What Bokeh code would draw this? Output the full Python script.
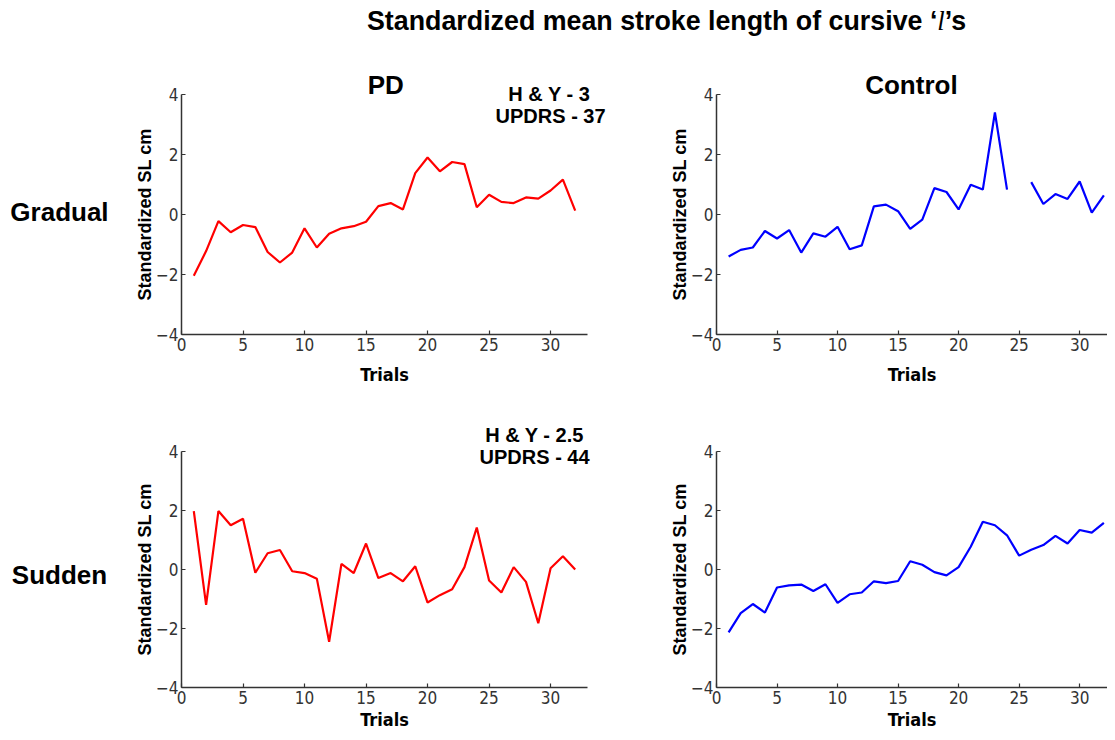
import numpy as np
from bokeh.plotting import figure
from bokeh.layouts import column, row
from bokeh.models import Range1d, FixedTicker, Label, Div
from bokeh.embed import file_html
from bokeh.resources import INLINE

# ---- data ----
trials = list(range(1, 33))
pd_gradual = [-2.04, -1.22, -0.22, -0.59, -0.35, -0.42, -1.25, -1.6, -1.27, -0.46,
              -1.1, -0.64, -0.46, -0.39, -0.24, 0.28, 0.38, 0.17, 1.38, 1.9,
              1.44, 1.75, 1.68, 0.24, 0.66, 0.42, 0.38, 0.57, 0.53, 0.8, 1.16, 0.13]
ctrl_gradual = [-1.4, -1.18, -1.1, -0.55, -0.8, -0.52, -1.27, -0.63, -0.74, -0.41,
                -1.16, -1.03, 0.27, 0.33, 0.11, -0.48, -0.17, 0.88, 0.75, 0.17,
                0.99, 0.83, 3.4, 0.83, np.nan, 1.08, 0.35, 0.68, 0.52, 1.1, 0.06, 0.64]
pd_sudden = [1.98, -1.2, 1.98, 1.5, 1.72, -0.11, 0.55, 0.66, -0.06, -0.12,
             -0.31, -2.45, 0.19, -0.12, 0.88, -0.29, -0.12, -0.4, 0.11, -1.12,
             -0.87, -0.67, 0.08, 1.42, -0.37, -0.78, 0.08, -0.42, -1.82, 0.04, 0.45, 0.0]
ctrl_sudden = [-2.13, -1.48, -1.17, -1.46, -0.61, -0.54, -0.51, -0.73, -0.5, -1.13,
               -0.84, -0.78, -0.4, -0.46, -0.39, 0.28, 0.16, -0.09, -0.2, 0.08,
               0.77, 1.62, 1.5, 1.16, 0.47, 0.67, 0.83, 1.14, 0.88, 1.34, 1.25, 1.58]
x_ticks = [0, 5, 10, 15, 20, 25, 30]
y_ticks = [-4, -2, 0, 2, 4]

TICK_FONT = "DejaVu Sans Condensed"
BOLD_FONT = "Liberation Sans"


def make_fig(width, height, ys, color, x_end, mbl, mbr, mbt, mbb, xlab_standoff):
    p = figure(width=width, height=height, output_backend="svg", toolbar_location=None,
               x_range=Range1d(0, x_end), y_range=Range1d(-4, 4),
               min_border_left=mbl, min_border_right=mbr,
               min_border_top=mbt, min_border_bottom=mbb)
    p.outline_line_color = None
    p.xgrid.visible = False
    p.ygrid.visible = False
    p.line(trials, ys, line_color=color, line_width=2.2)
    for ax in (p.xaxis, p.yaxis):
        ax.axis_line_color = "#333333"
        ax.axis_line_width = 1.5
        ax.major_tick_line_color = "#333333"
        ax.major_tick_line_width = 1.2
        ax.major_tick_in = 4
        ax.major_tick_out = 0
        ax.minor_tick_line_color = None
        ax.major_label_text_font = TICK_FONT
        ax.major_label_text_font_size = "17px"
        ax.major_label_text_color = "#333333"
        ax.axis_label_text_font_style = "bold"
        ax.axis_label_text_color = "#000000"
    p.xaxis.ticker = FixedTicker(ticks=x_ticks)
    p.yaxis.ticker = FixedTicker(ticks=y_ticks)
    p.xaxis.axis_label = "Trials"
    p.xaxis.axis_label_text_font = TICK_FONT
    p.xaxis.axis_label_text_font_size = "18px"
    p.xaxis.major_label_standoff = 3
    p.xaxis.axis_label_standoff = xlab_standoff
    p.yaxis.axis_label = "Standardized SL cm"
    p.yaxis.axis_label_text_font = BOLD_FONT
    p.yaxis.axis_label_text_font_size = "18px"
    p.yaxis.major_label_standoff = 3
    p.yaxis.axis_label_standoff = -2
    return p


def add_label(p, x, y, text, size, side):
    # side only decides which border panel reserves room; position is in data units
    p.add_layout(Label(x=x, y=y, text=text,
                       text_align="center", text_baseline="middle",
                       text_font=BOLD_FONT, text_font_style="bold",
                       text_font_size=size, text_color="#000000"), side)


LW, RW = 637, 470
DH, H1, H2 = 36, 354, 342
FW_L = 406
FL_L = 181
FL_R = 79

f_tl = make_fig(LW, H1, pd_gradual, "#ff0000", 33, FL_L, LW - FL_L - FW_L, 58, 56, 10)
f_tr = make_fig(RW, H1, ctrl_gradual, "#0000ff", 32.3, FL_R, 0, 58, 56, 10)
f_bl = make_fig(LW, H2, pd_sudden, "#ff0000", 33, FL_L, LW - FL_L - FW_L, 61, 40, 2)
f_br = make_fig(RW, H2, ctrl_sudden, "#0000ff", 32.3, FL_R, 0, 61, 40, 2)

add_label(f_tl, -9.92, 0.1, "Gradual", "26px", "left")
add_label(f_tl, 16.6, 4.33, "PD", "26px", "right")
add_label(f_tl, 29.9, 4.03, "H & Y - 3", "20px", "above")
add_label(f_tl, 30.0, 3.3, "UPDRS - 37", "20px", "above")
add_label(f_tr, 16.1, 4.33, "Control", "26px", "above")
add_label(f_bl, -9.92, -0.17, "Sudden", "26px", "left")
add_label(f_bl, 28.7, 4.55, "H & Y - 2.5", "20px", "above")
add_label(f_bl, 28.7, 3.8, "UPDRS - 44", "20px", "above")

title = Div(
    text=("<div style=\"font-family:'Liberation Sans',Arial,sans-serif;font-weight:bold;"
          "font-size:26.8px;line-height:30px;padding-top:6px;padding-left:367px;color:#000;"
          "white-space:nowrap\">"
          "Standardized mean stroke length of cursive \u2018"
          "<span style=\"font-family:'Liberation Serif',serif;font-style:italic;font-weight:normal\">l</span>"
          "\u2019s</div>"),
    width=LW + RW, height=DH, styles={"margin": "0", "padding": "0"})

layout = column(title, row(f_tl, f_tr, spacing=0), row(f_bl, f_br, spacing=0), spacing=0)

open("out.html", "w").write(file_html(layout, INLINE))
